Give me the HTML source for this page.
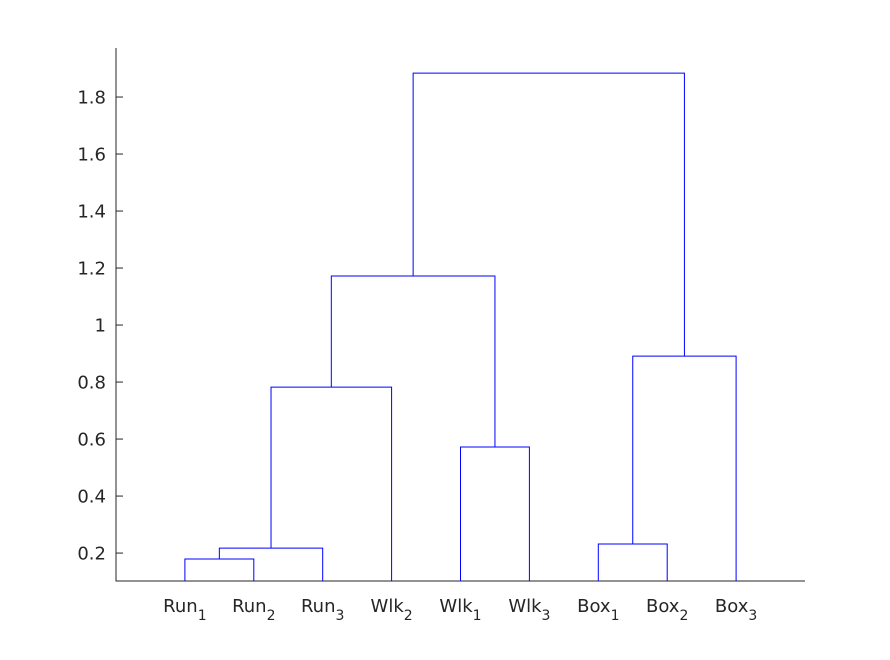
<!DOCTYPE html>
<html><head><meta charset="utf-8"><style>
body{margin:0;background:#fff}
svg text{font-family:"DejaVu Sans","Liberation Sans",sans-serif;fill:#262626}
</style></head><body>
<svg id="c" width="890" height="655" xmlns="http://www.w3.org/2000/svg">
<rect width="890" height="655" fill="#fff"/>
</svg>
<script>
const leafLabels=["Run","Run","Run","Wlk","Wlk","Wlk","Box","Box","Box"];
const leafSubs=["1","2","3","2","1","3","1","2","3"];
// merges: [childA, childB, height]; children: 0..8 leaves (display order), 9+ clusters
const mergeA=[0,9,10,4,11,6,14,13];
const mergeB=[1,2,3,5,12,7,8,15];
const mergeH=[0.179,0.2175,0.782,0.572,1.172,0.232,0.891,1.884];
const yTicks=[0.2,0.4,0.6,0.8,1,1.2,1.4,1.6,1.8];
const yTickLabels=["0.2","0.4","0.6","0.8","1","1.2","1.4","1.6","1.8"];
const L=116,R=805,T=48,B=581,yMin=0.102,yMax=1.972,xMin=0,xMax=10;
const sx=v=>L+(v-xMin)/(xMax-xMin)*(R-L);
const sy=v=>B-(v-yMin)/(yMax-yMin)*(B-T);
const svg=document.getElementById('c');const NS="http://www.w3.org/2000/svg";
function mk(t,a){const e=document.createElementNS(NS,t);for(const k in a)e.setAttribute(k,a[k]);svg.appendChild(e);return e;}
const nodeX=[],nodeH=[];
leafLabels.forEach((l,i)=>{nodeX[i]=i+1;nodeH[i]=yMin;});
const ax=mk('path',{d:`M${L},${T}V${B}H${R}`,fill:'none',stroke:'#262626','stroke-width':1});


yTicks.forEach((v,i)=>{const y=sy(v);
 const t=mk('path',{d:`M${L},${y}H${L+7}`,stroke:'#262626'});
 
 
 const tx=mk('text',{x:L-10,y:y+6.5,'text-anchor':'end','font-size':18});tx.textContent=yTickLabels[i];
 
 });
leafLabels.forEach((l,i)=>{const x=sx(i+1);
 const tx=mk('text',{x:x,y:612,'text-anchor':'middle','font-size':18});
 tx.innerHTML=l+'<tspan font-size="14" dy="8">'+leafSubs[i]+'</tspan>';
 
 });
mergeA.forEach((a,i)=>{const b=mergeB[i],h=mergeH[i];
 const x1=sx(nodeX[a]),x2=sx(nodeX[b]),y=sy(h);
 const p=mk('path',{d:`M${x1},${sy(nodeH[a])}V${y}H${x2}V${sy(nodeH[b])}`,fill:'none',stroke:'#0000ff','stroke-width':1});
 
 
 nodeX[9+i]=(nodeX[a]+nodeX[b])/2;nodeH[9+i]=h;});
</script>
</body></html>
